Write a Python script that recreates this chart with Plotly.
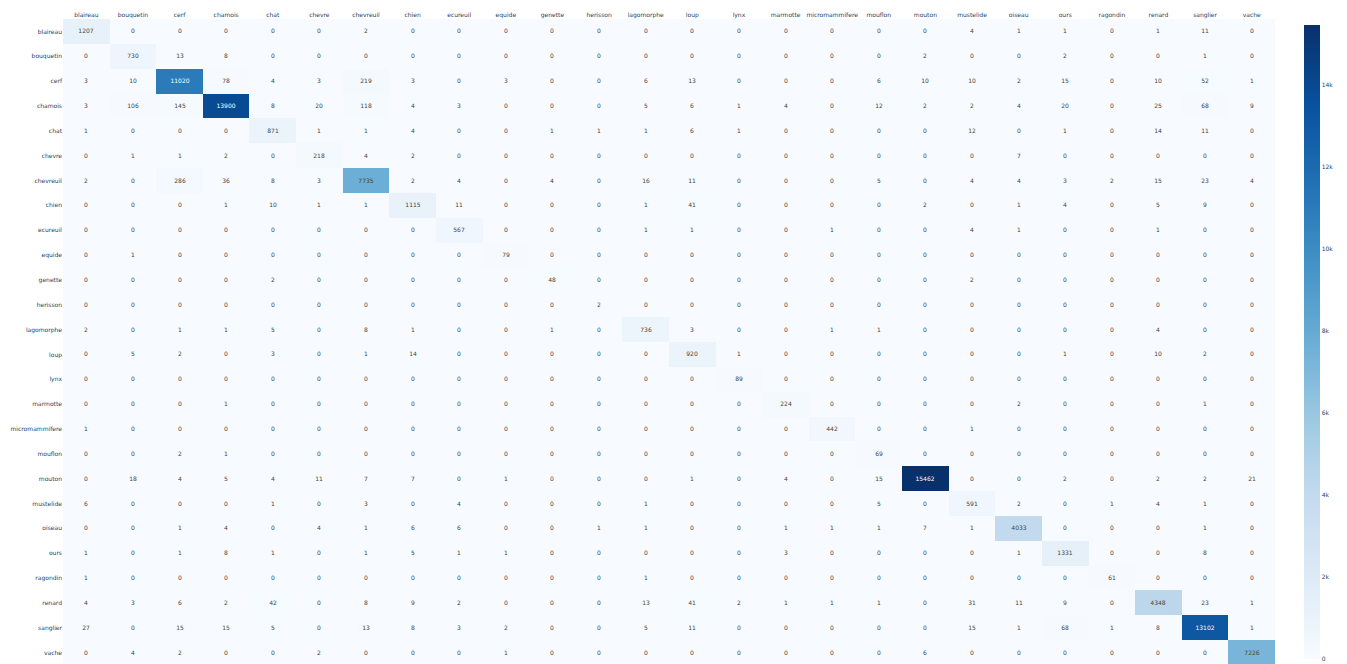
import plotly.graph_objects as go

# ── Classes (same order on both axes) ──────────────────────────────
classes = [
    "blaireau", "bouquetin", "cerf", "chamois", "chat", "chevre", "chevreuil",
    "chien", "ecureuil", "equide", "genette", "herisson", "lagomorphe", "loup",
    "lynx", "marmotte", "micromammifere", "mouflon", "mouton", "mustelide",
    "oiseau", "ours", "ragondin", "renard", "sanglier", "vache",
]

# ── Confusion matrix rows (true class -> predicted counts) ─────────
blaireau       = [1207, 0, 0, 0, 0, 0, 2, 0, 0, 0, 0, 0, 0, 0, 0, 0, 0, 0, 0, 4, 1, 1, 0, 1, 11, 0]
bouquetin      = [0, 730, 13, 8, 0, 0, 0, 0, 0, 0, 0, 0, 0, 0, 0, 0, 0, 0, 2, 0, 0, 2, 0, 0, 1, 0]
cerf           = [3, 10, 11020, 78, 4, 3, 219, 3, 0, 3, 0, 0, 6, 13, 0, 0, 0, 6, 10, 10, 2, 15, 0, 10, 52, 1]
chamois        = [3, 106, 145, 13900, 8, 20, 118, 4, 3, 0, 0, 0, 5, 6, 1, 4, 0, 12, 2, 2, 4, 20, 0, 25, 68, 9]
chat           = [1, 0, 0, 0, 871, 1, 1, 4, 0, 0, 1, 1, 1, 6, 1, 0, 0, 0, 0, 12, 0, 1, 0, 14, 11, 0]
chevre         = [0, 1, 1, 2, 0, 218, 4, 2, 0, 0, 0, 0, 0, 0, 0, 0, 0, 0, 0, 0, 7, 0, 0, 0, 0, 0]
chevreuil      = [2, 0, 286, 36, 8, 3, 7735, 2, 4, 0, 4, 0, 16, 11, 0, 0, 0, 5, 0, 4, 4, 3, 2, 15, 23, 4]
chien          = [0, 0, 0, 1, 10, 1, 1, 1115, 11, 0, 0, 0, 1, 41, 0, 0, 0, 0, 2, 0, 1, 4, 0, 5, 9, 0]
ecureuil       = [0, 0, 0, 0, 0, 0, 0, 0, 567, 0, 0, 0, 1, 1, 0, 0, 1, 0, 0, 4, 1, 0, 0, 1, 0, 0]
equide         = [0, 1, 0, 0, 0, 0, 0, 0, 0, 79, 0, 0, 0, 0, 0, 0, 0, 0, 0, 0, 0, 0, 0, 0, 0, 0]
genette        = [0, 0, 0, 0, 2, 0, 0, 0, 0, 0, 48, 0, 0, 0, 0, 0, 0, 0, 0, 2, 0, 0, 0, 0, 0, 0]
herisson       = [0, 0, 0, 0, 0, 0, 0, 0, 0, 0, 0, 2, 0, 0, 0, 0, 0, 0, 0, 0, 0, 0, 0, 0, 0, 0]
lagomorphe     = [2, 0, 1, 1, 5, 0, 8, 1, 0, 0, 1, 0, 736, 3, 0, 0, 1, 1, 0, 0, 0, 0, 0, 4, 0, 0]
loup           = [0, 5, 2, 0, 3, 0, 1, 14, 0, 0, 0, 0, 0, 920, 1, 0, 0, 0, 0, 0, 0, 1, 0, 10, 2, 0]
lynx           = [0, 0, 0, 0, 0, 0, 0, 0, 0, 0, 0, 0, 0, 0, 89, 0, 0, 0, 0, 0, 0, 0, 0, 0, 0, 0]
marmotte       = [0, 0, 0, 1, 0, 0, 0, 0, 0, 0, 0, 0, 0, 0, 0, 224, 0, 0, 0, 0, 2, 0, 0, 0, 1, 0]
micromammifere = [1, 0, 0, 0, 0, 0, 0, 0, 0, 0, 0, 0, 0, 0, 0, 0, 442, 0, 0, 1, 0, 0, 0, 0, 0, 0]
mouflon        = [0, 0, 2, 1, 0, 0, 0, 0, 0, 0, 0, 0, 0, 0, 0, 0, 0, 69, 0, 0, 0, 0, 0, 0, 0, 0]
mouton         = [0, 18, 4, 5, 4, 11, 7, 7, 0, 1, 0, 0, 0, 1, 0, 4, 0, 15, 15462, 0, 0, 2, 0, 2, 2, 21]
mustelide      = [6, 0, 0, 0, 1, 0, 3, 0, 4, 0, 0, 0, 1, 0, 0, 0, 0, 5, 0, 591, 2, 0, 1, 4, 1, 0]
oiseau         = [0, 0, 1, 4, 0, 4, 1, 6, 6, 0, 0, 1, 1, 0, 0, 1, 1, 1, 7, 1, 4033, 0, 0, 0, 1, 0]
ours           = [1, 0, 1, 8, 1, 0, 1, 5, 1, 1, 0, 0, 0, 0, 0, 3, 0, 0, 0, 0, 1, 1331, 0, 0, 8, 0]
ragondin       = [1, 0, 0, 0, 0, 0, 0, 0, 0, 0, 0, 0, 1, 0, 0, 0, 0, 0, 0, 0, 0, 0, 61, 0, 0, 0]
renard         = [4, 3, 6, 2, 42, 0, 8, 9, 2, 0, 0, 0, 13, 41, 2, 1, 1, 1, 0, 31, 11, 9, 0, 4348, 23, 1]
sanglier       = [27, 0, 15, 15, 5, 0, 13, 8, 3, 2, 0, 0, 5, 11, 0, 0, 0, 0, 0, 15, 1, 68, 1, 8, 13102, 1]
vache          = [0, 4, 2, 0, 0, 2, 0, 0, 0, 1, 0, 0, 0, 0, 0, 0, 0, 0, 6, 0, 0, 0, 0, 0, 0, 7226]

matrix = [
    blaireau, bouquetin, cerf, chamois, chat, chevre, chevreuil, chien, ecureuil,
    equide, genette, herisson, lagomorphe, loup, lynx, marmotte, micromammifere,
    mouflon, mouton, mustelide, oiseau, ours, ragondin, renard, sanglier, vache,
]

FONT = "DejaVu Sans"
SIZE = 6

fig = go.Figure(
    go.Heatmap(
        z=matrix,
        x=classes,
        y=classes,
        text=matrix,
        texttemplate="%{text}",
        colorscale="Blues",
        textfont=dict(size=SIZE, family=FONT),
        colorbar=dict(
            thickness=16,
            x=1.0,
            xanchor="left",
            xpad=29,
            ypad=6,
            outlinewidth=0,
            tickfont=dict(size=SIZE, family=FONT),
        ),
    )
)

# page body has an 8px margin, so the margins below are shifted to compensate
fig.update_layout(
    width=1347,
    height=664,
    margin=dict(l=55, r=80, t=11, b=7, autoexpand=False),
    paper_bgcolor="white",
    plot_bgcolor="white",
    font=dict(size=SIZE, family=FONT),
    xaxis=dict(side="top", tickangle=0, showgrid=False, zeroline=False,
               automargin=False, tickfont=dict(size=SIZE, family=FONT)),
    yaxis=dict(autorange="reversed", showgrid=False, zeroline=False,
               automargin=False, tickfont=dict(size=SIZE, family=FONT)),
)

fig.write_html("out.html")
